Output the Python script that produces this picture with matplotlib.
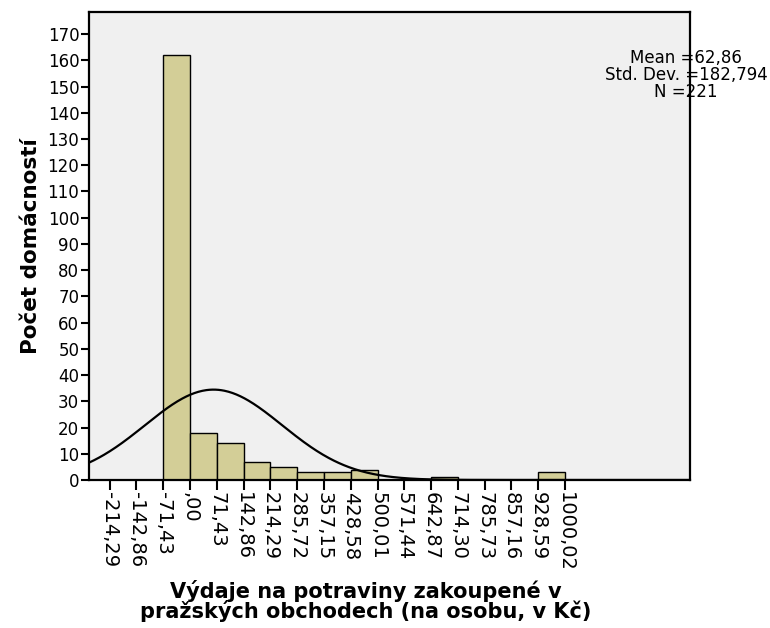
import matplotlib.pyplot as plt
import numpy as np

plt.rcParams['font.family'] = ['DejaVu Sans']

# bin edges (as labelled on the axis) and counts
bin_edges = [-71.43, 0.00, 71.43, 142.86, 214.29, 285.72, 357.15, 428.58,
             500.01, 571.44, 642.87, 714.30, 785.73, 857.16, 928.59, 1000.02]
counts = [162, 18, 14, 7, 5, 3, 3, 4, 0, 0, 1, 0, 0, 0, 3]
tick_values = [-214.29, -142.86, -71.43, 0.00, 71.43, 142.86, 214.29, 285.72,
               357.15, 428.58, 500.01, 571.44, 642.87, 714.30, 785.73, 857.16,
               928.59, 1000.02]
tick_labels = ["-214,29", "-142,86", "-71,43", ",00", "71,43", "142,86", "214,29",
               "285,72", "357,15", "428,58", "500,01", "571,44", "642,87", "714,30",
               "785,73", "857,16", "928,59", "1000,02"]
mean, sd, n = 62.86, 182.794, 221

BAR = "#D3CE97"
BG = "#F0F0F0"

fig = plt.figure(figsize=(7.7, 6.28), dpi=100)
ax = fig.add_axes([89 / 770, 1 - 480 / 628, 601 / 770, 468 / 628])
ax.set_facecolor(BG)

lefts = np.array(bin_edges[:-1])
widths = np.diff(bin_edges)
ax.bar(lefts, counts, width=widths, align="edge", color=BAR,
       edgecolor="black", linewidth=1.0, zorder=2)

# normal curve scaled to counts
xmin, xmax = -269.3, 1333.3
xs = np.linspace(xmin, xmax, 600)
bw = 71.43
ys = n * bw / (sd * np.sqrt(2 * np.pi)) * np.exp(-0.5 * ((xs - mean) / sd) ** 2)
ax.plot(xs, ys, color="black", lw=1.6, zorder=3)

ax.set_xlim(xmin, xmax)
ax.set_ylim(0, 178.4)
ax.set_yticks(range(0, 171, 10))
ax.set_xticks(tick_values)
ax.set_xticklabels(tick_labels, rotation=270, fontsize=14)
ax.tick_params(axis="y", labelsize=12, length=6, width=1.5, direction="out", pad=1)
ax.tick_params(axis="x", length=7, width=1.5, direction="out", pad=2)
for s in ax.spines.values():
    s.set_linewidth(1.6)

ax.set_ylabel("Počet domácností", fontsize=15.5, fontweight="bold", labelpad=5)
fig.text(366 / 770, 1 - 601 / 628,
         "Výdaje na potraviny zakoupené v\npražských obchodech (na osobu, v Kč)",
         ha="center", va="center", fontsize=15, fontweight="bold",
         linespacing=0.92)

fig.text(686 / 770, 1 - 75 / 628,
         "Mean =62,86\nStd. Dev. =182,794\nN =221",
         ha="center", va="center", fontsize=12, linespacing=0.96)

fig.savefig("out.png", dpi=100, facecolor="white")
